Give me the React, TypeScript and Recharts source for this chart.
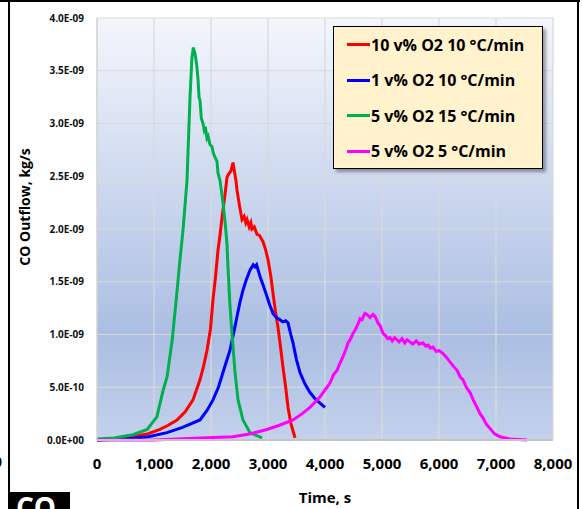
import React from 'react';
import { LineChart, Line, XAxis, YAxis, CartesianGrid, Legend, Label } from 'recharts';

// Time in s, CO outflow in units of 1e-9 kg/s
const redTime = [0, 300, 631, 900, 1105, 1250, 1404, 1550, 1684, 1807, 1870, 1930, 1990, 2035, 2080, 2123, 2160, 2193, 2240, 2281, 2310, 2350, 2386, 2410, 2440, 2456, 2500, 2544, 2580, 2610, 2632, 2670, 2700, 2719, 2760, 2807, 2850, 2912, 2960, 3000, 3050, 3088, 3130, 3175, 3220, 3263, 3310, 3351, 3400, 3474];
const redFlow = [0, 0.01, 0.03, 0.06, 0.1, 0.14, 0.19, 0.27, 0.38, 0.57, 0.7, 0.85, 1.05, 1.33, 1.55, 1.8, 1.95, 2.11, 2.3, 2.49, 2.52, 2.55, 2.63, 2.55, 2.45, 2.37, 2.22, 2.09, 2.12, 2.06, 2.09, 2.02, 2.06, 2.0, 2.02, 1.95, 1.94, 1.88, 1.8, 1.71, 1.55, 1.39, 1.22, 1.07, 0.88, 0.69, 0.5, 0.31, 0.16, 0.02];

const blueTime = [0, 500, 900, 1228, 1500, 1807, 1930, 2035, 2130, 2210, 2280, 2333, 2400, 2456, 2510, 2561, 2620, 2684, 2740, 2772, 2800, 2860, 2920, 2982, 3030, 3088, 3150, 3210, 3260, 3310, 3351, 3400, 3439, 3500, 3561, 3650, 3737, 3830, 3912, 4000];
const blueFlow = [0, 0.01, 0.03, 0.07, 0.12, 0.19, 0.28, 0.38, 0.5, 0.64, 0.76, 0.85, 1.02, 1.17, 1.31, 1.42, 1.52, 1.61, 1.66, 1.64, 1.66, 1.55, 1.46, 1.36, 1.28, 1.2, 1.16, 1.14, 1.12, 1.13, 1.11, 1.0, 0.92, 0.76, 0.64, 0.53, 0.45, 0.39, 0.35, 0.31];

const greenTime = [0, 300, 630, 880, 1050, 1160, 1230, 1320, 1390, 1456, 1509, 1579, 1632, 1665, 1690, 1720, 1750, 1772, 1790, 1807, 1830, 1860, 1880, 1900, 1930, 1950, 1982, 2018, 2040, 2070, 2105, 2123, 2158, 2210, 2250, 2281, 2298, 2330, 2368, 2420, 2474, 2561, 2684, 2895];
const greenFlow = [0.01, 0.02, 0.05, 0.1, 0.22, 0.47, 0.6, 0.95, 1.33, 1.71, 1.99, 2.46, 3.25, 3.62, 3.72, 3.66, 3.55, 3.42, 3.25, 3.22, 3.05, 3.0, 2.94, 2.97, 2.86, 2.88, 2.8, 2.78, 2.72, 2.68, 2.64, 2.53, 2.46, 2.25, 2.05, 1.85, 1.64, 1.3, 1.01, 0.65, 0.38, 0.19, 0.07, 0.02];

const magentaTime = [0, 1000, 1807, 2386, 2700, 2982, 3200, 3439, 3600, 3737, 3900, 4035, 4088, 4150, 4210, 4263, 4316, 4360, 4404, 4450, 4491, 4526, 4580, 4614, 4649, 4700, 4737, 4790, 4842, 4880, 4930, 4970, 5018, 5060, 5100, 5140, 5180, 5220, 5263, 5300, 5350, 5400, 5440, 5491, 5540, 5600, 5650, 5719, 5770, 5810, 5850, 5895, 5950, 6000, 6070, 6120, 6193, 6250, 6316, 6370, 6421, 6480, 6544, 6600, 6667, 6720, 6772, 6830, 6895, 6970, 7070, 7246, 7544];
const magentaFlow = [0, 0, 0.02, 0.03, 0.06, 0.1, 0.14, 0.19, 0.25, 0.31, 0.4, 0.5, 0.54, 0.62, 0.66, 0.73, 0.79, 0.85, 0.92, 0.96, 1.01, 1.04, 1.1, 1.15, 1.14, 1.2, 1.19, 1.16, 1.19, 1.17, 1.11, 1.08, 1.01, 0.99, 0.96, 0.97, 0.94, 0.97, 0.95, 0.93, 0.96, 0.92, 0.95, 0.93, 0.91, 0.94, 0.91, 0.92, 0.89, 0.9, 0.87, 0.88, 0.84, 0.85, 0.82, 0.79, 0.74, 0.7, 0.66, 0.6, 0.57, 0.5, 0.45, 0.38, 0.31, 0.25, 0.21, 0.15, 0.11, 0.06, 0.03, 0.01, 0];

const xTicks = [0, 1000, 2000, 3000, 4000, 5000, 6000, 7000, 8000];
const yTicks = [0, 0.5, 1, 1.5, 2, 2.5, 3, 3.5, 4];

const font = '"Open Sans", sans-serif';

const toPoints = (time: number[], flow: number[]) => time.map((t, i) => ({ t, v: flow[i] }));

const series = [
  { name: '10 v% O2 10 °C/min', color: '#ff0000', data: toPoints(redTime, redFlow) },
  { name: '1 v% O2 10 °C/min', color: '#0000ff', data: toPoints(blueTime, blueFlow) },
  { name: '5 v% O2 15 °C/min', color: '#00b050', data: toPoints(greenTime, greenFlow) },
  { name: '5 v% O2 5 °C/min', color: '#ff00ff', data: toPoints(magentaTime, magentaFlow) },
];

// 4.0E-09 style labels
const sci = (v: number) => {
  const [m, e] = (v * 1e-9).toExponential(1).split('e');
  const n = parseInt(e, 10);
  return `${m}E${n < 0 ? '-' : '+'}${String(Math.abs(n)).padStart(2, '0')}`;
};

// legend keeps the series order instead of the default alphabetical one
const LegendBox = ({ payload }: any) => {
  const items = series
    .map((s) => (payload || []).find((p: any) => p.value === s.name))
    .filter(Boolean);
  return (
    <div
      style={{
        width: 208,
        height: 141,
        background: '#fff2cc',
        border: '1px solid #000',
        boxShadow: '3px 3px 3px rgba(0,0,0,0.35)',
        fontFamily: font,
        fontWeight: 700,
        fontSize: 16,
        color: '#000',
        boxSizing: 'content-box',
      }}
    >
      {items.map((p: any, i: number) => (
        <div key={i} style={{ display: 'flex', alignItems: 'center', height: 35.5, paddingLeft: 13 }}>
          <span style={{ display: 'inline-block', width: 23, height: 3, background: p.color }} />
          <span style={{ marginLeft: 1, whiteSpace: 'nowrap' }}>{p.value}</span>
        </div>
      ))}
    </div>
  );
};

const App = () => {
  return (
    <div style={{ position: 'absolute', left: 0, top: 0, width: 582, height: 509, background: '#fff', overflow: 'hidden' }}>
      {/* frame lines */}
      <div style={{ position: 'absolute', left: 0, top: 0, width: 580, height: 2, background: '#000' }} />
      <div style={{ position: 'absolute', left: 8, top: 0, width: 1.5, height: 509, background: '#000' }} />
      <div style={{ position: 'absolute', left: 577, top: 0, width: 2, height: 509, background: '#000' }} />
      <div style={{ position: 'absolute', left: -6, top: 452, fontFamily: font, fontWeight: 700, fontSize: 14 }}>0</div>
      <div style={{ position: 'absolute', left: 10, top: 492, width: 60, height: 17, background: '#000', overflow: 'hidden' }}>
        <div style={{ color: '#fff', fontFamily: font, fontWeight: 700, fontSize: 28, lineHeight: '28px', marginTop: 1, marginLeft: 6 }}>CO</div>
      </div>
      <div style={{ position: 'absolute', left: 0, top: 0 }}>
        <LineChart width={582} height={509} margin={{ top: 18, right: 29, bottom: 0, left: 0 }}>
          <defs>
            <linearGradient id="plotBg" x1="0" y1="0" x2="0" y2="1">
              <stop offset="0%" stopColor="#f3f6fc" />
              <stop offset="75%" stopColor="#abbee2" />
              <stop offset="100%" stopColor="#c3d1eb" />
            </linearGradient>
          </defs>
          <CartesianGrid stroke="#d9d9d9" strokeWidth={1.2} fill="url(#plotBg)" fillOpacity={1} />
          <XAxis
            type="number"
            dataKey="t"
            domain={[0, 8000]}
            ticks={xTicks}
            height={69}
            tickSize={0}
            tickMargin={18}
            tickFormatter={(v: number) => v.toLocaleString('en-US')}
            tick={{ fontFamily: font, fontWeight: 700, fontSize: 15, fill: '#000' }}
            axisLine={{ stroke: '#c4c4c4', strokeWidth: 2 }}
            interval={0}
          >
            <Label value="Time, s" position="insideBottom" offset={6} style={{ fontFamily: font, fontWeight: 700, fontSize: 15, fill: '#000' }} />
          </XAxis>
          <YAxis
            type="number"
            domain={[0, 4]}
            ticks={yTicks}
            width={97}
            tickSize={0}
            tickMargin={13}
            tickFormatter={sci}
            tick={{ fontFamily: font, fontWeight: 700, fontSize: 10, fill: '#111' }}
            axisLine={{ stroke: '#d0d0d0' }}
            interval={0}
          >
            <Label
              content={() => (
                <text
                  x={30}
                  y={207}
                  transform="rotate(-90 30 207)"
                  textAnchor="middle"
                  style={{ fontFamily: font, fontWeight: 700, fontSize: 14, fill: '#000' }}
                >
                  CO Outflow, kg/s
                </text>
              )}
            />
          </YAxis>
          <Legend
            layout="vertical"
            align="center"
            verticalAlign="middle"
            content={<LegendBox />}
            wrapperStyle={{ left: 333, top: 26, width: 'auto' }}
          />
          {series.map((s) => (
            <Line
              key={s.name}
              name={s.name}
              data={s.data}
              dataKey="v"
              type="linear"
              stroke={s.color}
              strokeWidth={3}
              dot={false}
              activeDot={false}
              isAnimationActive={false}
            />
          ))}
        </LineChart>
      </div>
    </div>
  );
};

export default App;
